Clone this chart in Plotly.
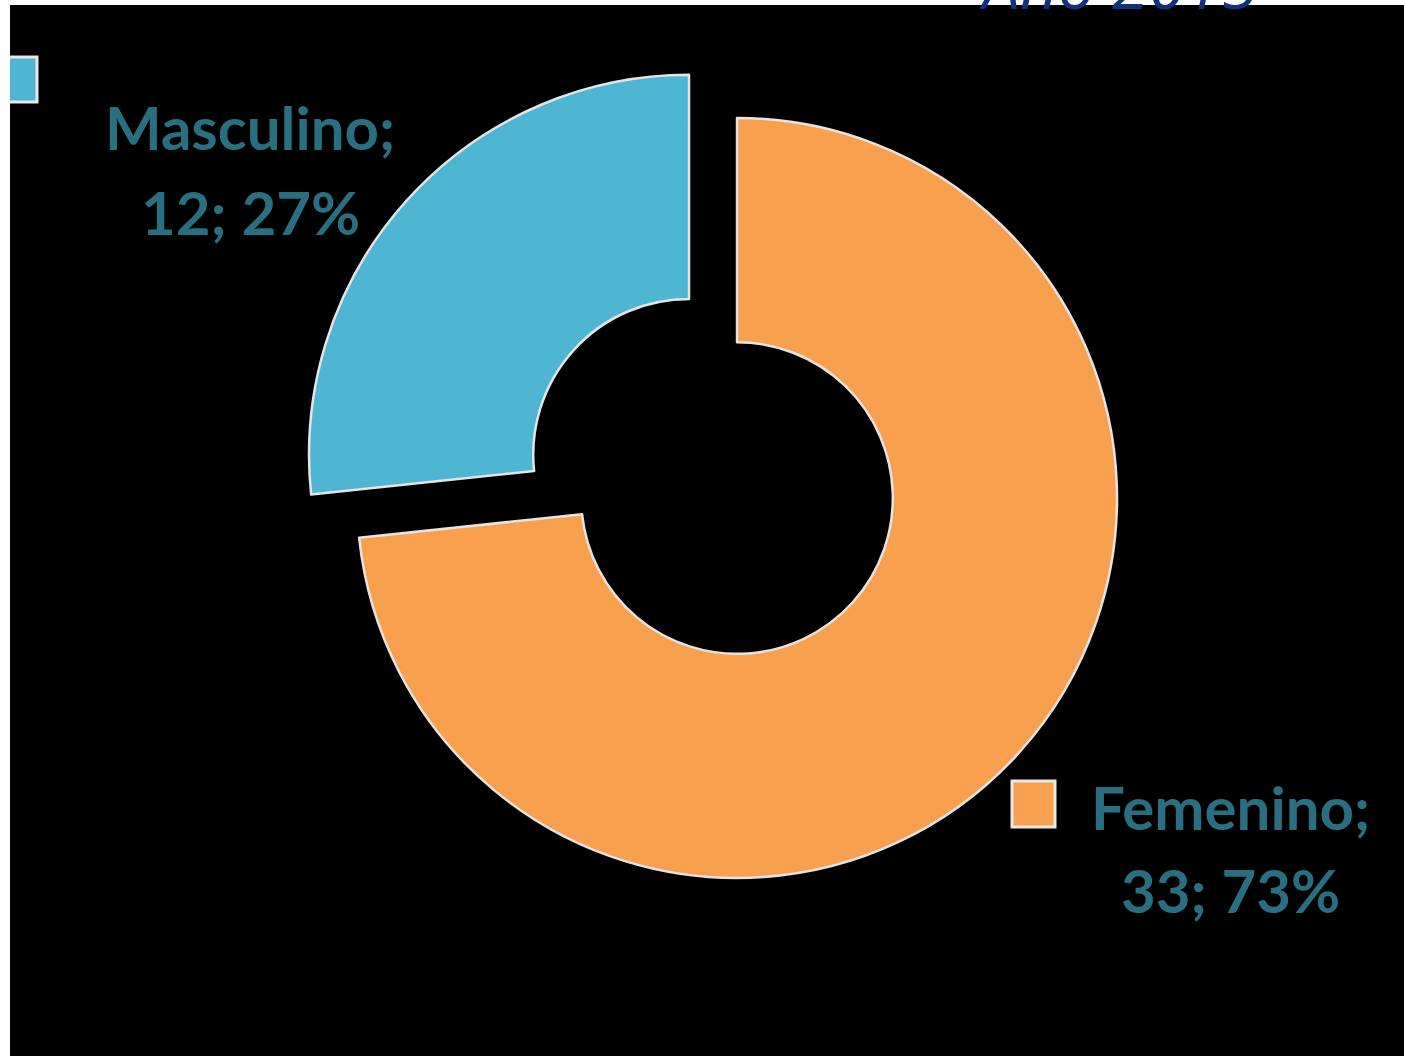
import plotly.graph_objects as go

# ---- data ----
categories = ["Femenino", "Masculino"]
counts = [33, 12]
colors = ["#F9A04E", "#4EB5D3"]
pulls = [0.0, 0.17]
title_text = "Año 2015"

total = sum(counts)
percents = [round(100 * v / total) for v in counts]

W, H = 1404, 1056
fig = go.Figure()

fig.add_trace(go.Pie(
    labels=categories,
    values=counts,
    sort=False,
    direction="clockwise",
    rotation=0,
    hole=0.41,
    pull=pulls,
    marker=dict(colors=colors, line=dict(color="#E4E4E4", width=2.5)),
    textinfo="none",
    hoverinfo="label+value+percent",
    showlegend=False,
    domain=dict(x=[0.2083, 0.8416], y=[0.1074, 0.9494]),
))

def px(x):
    return x / W

def py(y):
    return 1 - y / H

label_color = "#2A6E82"
label_font = dict(family="Lato", size=60, color=label_color)

# label positions (pixel centres of the two text lines) per category
label_pos = {
    "Masculino": (250, 127, 212),
    "Femenino": (1230, 807, 890),
}
key_boxes = {
    "Masculino": (-6, 57, 37, 102),
    "Femenino": (1012, 781, 1055, 827),
}

annotations = []
shapes = []
for cat, val, pct, col in zip(categories, counts, percents, colors):
    cx, y1, y2 = label_pos[cat]
    annotations.append(dict(
        x=px(cx), y=py(y1), xref="paper", yref="paper",
        text=f"<b>{cat};</b>", showarrow=False,
        xanchor="center", yanchor="middle", font=label_font,
    ))
    annotations.append(dict(
        x=px(cx), y=py(y2), xref="paper", yref="paper",
        text=f"<b>{val}; {pct}%</b>", showarrow=False,
        xanchor="center", yanchor="middle", font=label_font,
    ))
    x0, y0, x1, y1b = key_boxes[cat]
    shapes.append(dict(
        type="rect", xref="paper", yref="paper",
        x0=px(x0), x1=px(x1), y0=py(y1b), y1=py(y0),
        fillcolor=col, line=dict(color="#E8E8E8", width=3), layer="above",
    ))

# partially visible title at the top right (cut off by the top edge)
annotations.append(dict(
    x=px(1118), y=py(30), xref="paper", yref="paper",
    text=f"<i>{title_text}</i>", showarrow=False,
    xanchor="center", yanchor="bottom",
    font=dict(family="Open Sans", size=66, color="#15307A"),
))

# white frame strips (top and left)
shapes.append(dict(type="rect", xref="paper", yref="paper",
                   x0=0, x1=px(10), y0=0, y1=1,
                   fillcolor="white", line=dict(width=0), layer="above"))
shapes.append(dict(type="rect", xref="paper", yref="paper",
                   x0=0, x1=1, y0=py(5), y1=1,
                   fillcolor="white", line=dict(width=0), layer="above"))

fig.update_layout(
    width=W, height=H,
    margin=dict(l=0, r=0, t=0, b=0),
    paper_bgcolor="black",
    plot_bgcolor="black",
    annotations=annotations,
    shapes=shapes,
)

fig.write_html("out.html", config={"displayModeBar": False},
               post_script="document.body.style.margin='0';")
